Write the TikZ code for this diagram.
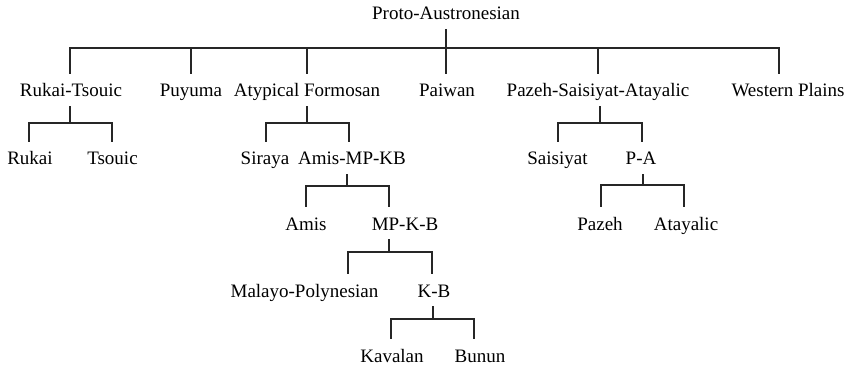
\documentclass[tikz,border=0pt]{standalone}
\usepackage{fontspec}
\setmainfont{Liberation Serif}
\begin{document}
\begin{tikzpicture}[x=1pt,y=-1pt,
  lbl/.style={anchor=base, font=\fontsize{19}{22}\selectfont, text height=17pt, text depth=3pt, inner ysep=6pt, inner xsep=0pt},
  edge/.style={line width=1.1pt, draw=black!85}]
\useasboundingbox (0,0) rectangle (851,366);
% level 0
\node[lbl] (root) at (446,20) {Proto-Austronesian};
% level 1
\node[lbl] (rt)  at (71,97) {Rukai-Tsouic};
\node[lbl] (puy) at (191,97) {Puyuma};
\node[lbl] (af)  at (307,97) {Atypical Formosan};
\node[lbl] (pai) at (447,97) {Paiwan};
\node[lbl] (psa) at (598,97) {Pazeh-Saisiyat-Atayalic};
\node[lbl] (wp)  at (788,97) {Western Plains};
% level 2
\node[lbl] (rukai)  at (30,165) {Rukai};
\node[lbl] (tsouic) at (112.5,165) {Tsouic};
\node[lbl] (siraya) at (265,165) {Siraya};
\node[lbl] (amkb)   at (352,165) {Amis-MP-KB};
\node[lbl] (sais)   at (557.5,165) {Saisiyat};
\node[lbl] (pa)     at (641,165) {P-A};
% level 3
\node[lbl] (amis)  at (306,230) {Amis};
\node[lbl] (mpkb)  at (405,230) {MP-K-B};
\node[lbl] (pazeh) at (600,230) {Pazeh};
\node[lbl] (atay)  at (686,230) {Atayalic};
% level 4
\node[lbl] (mp) at (304.5,297) {Malayo-Polynesian};
\node[lbl] (kb) at (434,297) {K-B};
% level 5
\node[lbl] (kav) at (392,362) {Kavalan};
\node[lbl] (bun) at (480,362) {Bunun};
% branch points
\coordinate (rootb) at (446,48);
\coordinate (rtb)   at (70,123);
\coordinate (afb)   at (307,123);
\coordinate (psab)  at (600,123);
\coordinate (amkbb) at (347,186);
\coordinate (pab)   at (643,185);
\coordinate (mpkbb) at (389,252);
\coordinate (kbb)   at (433,319);
% connectors
\begin{scope}[edge]
\draw (root.south) -- (rootb);
\draw (rootb) -| ([xshift=-1pt]rt.north);
\draw (rootb) -| (puy.north);
\draw (rootb) -| (af.north);
\draw (rootb) -| ([xshift=-1pt]pai.north);
\draw (rootb) -| (psa.north);
\draw (rootb) -| ([xshift=-9pt]wp.north);

\draw ([xshift=-1pt]rt.south) -- (rtb);
\draw (rtb) -| ([xshift=-1pt]rukai.north);
\draw (rtb) -| ([xshift=-0.5pt]tsouic.north);

\draw (af.south) -- (afb);
\draw (afb) -| ([xshift=1pt]siraya.north);
\draw (afb) -| ([xshift=-3pt]amkb.north);

\draw ([xshift=2pt]psa.south) -- (psab);
\draw (psab) -| ([xshift=0.5pt]sais.north);
\draw (psab) -| ([xshift=1pt]pa.north);

\draw ([xshift=-5pt]amkb.south) -- (amkbb);
\draw (amkbb) -| (amis.north);
\draw (amkbb) -| ([xshift=-16pt]mpkb.north);

\draw ([xshift=2pt]pa.south) -- (pab);
\draw (pab) -| ([xshift=1pt]pazeh.north);
\draw (pab) -| ([xshift=-2pt]atay.north);

\draw ([xshift=-16pt]mpkb.south) -- (mpkbb);
\draw (mpkbb) -| ([xshift=43.5pt]mp.north);
\draw (mpkbb) -| ([xshift=-2pt]kb.north);

\draw ([xshift=-1pt]kb.south) -- (kbb);
\draw (kbb) -| ([xshift=-1pt]kav.north);
\draw (kbb) -| ([xshift=-6pt]bun.north);
\end{scope}
\end{tikzpicture}
\end{document}
